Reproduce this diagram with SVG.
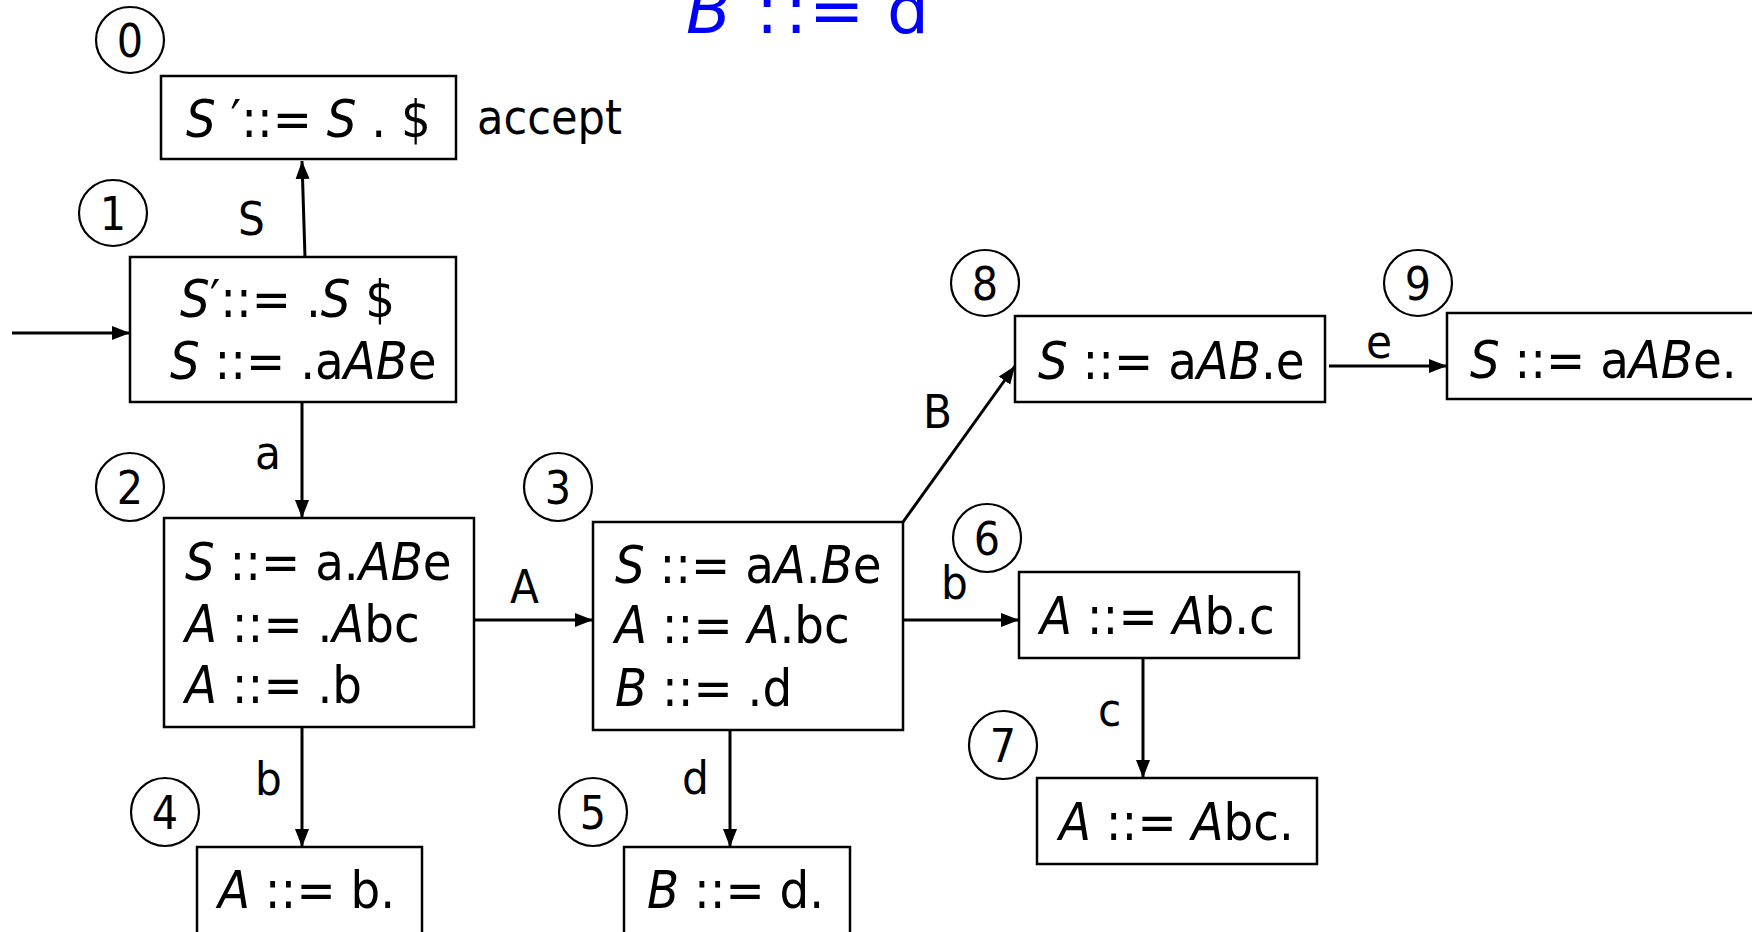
<svg xmlns="http://www.w3.org/2000/svg" width="1752" height="932" viewBox="0 0 1752 932">
<style>
.box{fill:#fff;stroke:#000;stroke-width:2.5}
.st{fill:none;stroke:#000;stroke-width:2.2}
.t{font-family:"DejaVu Sans Condensed","DejaVu Sans",sans-serif;font-size:52px;fill:#000}
.l{font-family:"DejaVu Sans Condensed","DejaVu Sans",sans-serif;font-size:47px;fill:#000}
.n{font-family:"DejaVu Sans Condensed","DejaVu Sans",sans-serif;font-size:46px;fill:#000;text-anchor:middle}
.i{font-style:italic}
.edge{fill:none;stroke:#000;stroke-width:3;marker-end:url(#ah)}
</style>
<defs>
<marker id="ah" markerUnits="userSpaceOnUse" markerWidth="20" markerHeight="16" refX="18" refY="8" orient="auto">
<path d="M0,1 L18,8 L0,15 Z" fill="#000"/>
</marker>
</defs>
<rect width="1752" height="932" fill="#fff"/>
<text y="33" font-family="DejaVu Sans, Verdana, sans-serif" font-size="66" fill="#0000FF"><tspan x="686" class="i">B </tspan><tspan x="756">:</tspan><tspan x="785">:</tspan><tspan x="809">= </tspan><tspan x="887">d</tspan></text>

<g id="connectors">
<line class="edge" x1="305" y1="257" x2="302" y2="161"/>
<line class="edge" x1="12" y1="333" x2="130" y2="333"/>
<line class="edge" x1="302" y1="402" x2="302" y2="518"/>
<line class="edge" x1="474" y1="620" x2="593" y2="620"/>
<line class="edge" x1="302" y1="727" x2="302" y2="847"/>
<line class="edge" x1="730" y1="727" x2="730" y2="847"/>
<line class="edge" x1="903" y1="522" x2="1015" y2="366"/>
<line class="edge" x1="1329" y1="366" x2="1447" y2="366"/>
<line class="edge" x1="903" y1="620" x2="1019" y2="620"/>
<line class="edge" x1="1143" y1="658" x2="1143" y2="778"/>
<text class="l" x="238" y="235">S</text>
<text class="l" x="255" y="469">a</text>
<text class="l" x="510" y="603">A</text>
<text class="l" x="255" y="795">b</text>
<text class="l" x="682" y="794">d</text>
<text class="l" x="923" y="428">B</text>
<text class="l" x="1366" y="358">e</text>
<text class="l" x="941" y="599">b</text>
<text class="l" x="1098" y="726">c</text>
</g>

<g id="state0">
<ellipse class="st" cx="130" cy="40" rx="34" ry="33"/>
<text class="n" x="130" y="57">0</text>
<rect class="box" x="161" y="76" width="295" height="83"/>
<text class="t" x="186" y="137"><tspan class="i">S</tspan> ′::= <tspan class="i">S</tspan> . $</text>
<text class="l" x="477" y="134" style="font-size:48px">accept</text>
</g>

<g id="state1">
<ellipse class="st" cx="113" cy="213" rx="34" ry="33"/>
<text class="n" x="113" y="230">1</text>
<rect class="box" x="130" y="257" width="326" height="145"/>
<text class="t" x="180" y="317"><tspan class="i">S</tspan>′::= .<tspan class="i">S</tspan> $</text>
<text class="t" x="170" y="379"><tspan class="i">S</tspan> ::= .a<tspan class="i">AB</tspan>e</text>
</g>

<g id="state2">
<ellipse class="st" cx="130" cy="487" rx="34" ry="34"/>
<text class="n" x="130" y="504">2</text>
<rect class="box" x="164" y="518" width="310" height="209"/>
<text class="t" x="185" y="580"><tspan class="i">S</tspan> ::= a.<tspan class="i">AB</tspan>e</text>
<text class="t" x="185" y="642"><tspan class="i">A</tspan> ::= .<tspan class="i">A</tspan>bc</text>
<text class="t" x="185" y="703"><tspan class="i">A</tspan> ::= .b</text>
</g>

<g id="state3">
<ellipse class="st" cx="558" cy="487" rx="34" ry="34"/>
<text class="n" x="558" y="504">3</text>
<rect class="box" x="593" y="522" width="310" height="208"/>
<text class="t" x="615" y="583"><tspan class="i">S</tspan> ::= a<tspan class="i">A</tspan>.<tspan class="i">B</tspan>e</text>
<text class="t" x="615" y="643"><tspan class="i">A</tspan> ::= <tspan class="i">A</tspan>.bc</text>
<text class="t" x="615" y="706"><tspan class="i">B</tspan> ::= .d</text>
</g>

<g id="state4">
<ellipse class="st" cx="165" cy="812" rx="34" ry="34"/>
<text class="n" x="165" y="829">4</text>
<rect class="box" x="197" y="847" width="225" height="100"/>
<text class="t" x="218" y="908"><tspan class="i">A</tspan> ::= b.</text>
</g>

<g id="state5">
<ellipse class="st" cx="593" cy="812" rx="34" ry="34"/>
<text class="n" x="593" y="829">5</text>
<rect class="box" x="624" y="847" width="226" height="100"/>
<text class="t" x="647" y="908"><tspan class="i">B</tspan> ::= d.</text>
</g>

<g id="state6">
<ellipse class="st" cx="987" cy="538" rx="34" ry="34"/>
<text class="n" x="987" y="555">6</text>
<rect class="box" x="1019" y="572" width="280" height="86"/>
<text class="t" x="1040" y="634"><tspan class="i">A</tspan> ::= <tspan class="i">A</tspan>b.c</text>
</g>

<g id="state7">
<ellipse class="st" cx="1003" cy="745" rx="34" ry="34"/>
<text class="n" x="1003" y="762">7</text>
<rect class="box" x="1037" y="778" width="280" height="86"/>
<text class="t" x="1059" y="840"><tspan class="i">A</tspan> ::= <tspan class="i">A</tspan>bc.</text>
</g>

<g id="state8">
<ellipse class="st" cx="985" cy="283" rx="34" ry="33"/>
<text class="n" x="985" y="300">8</text>
<rect class="box" x="1015" y="316" width="310" height="86"/>
<text class="t" x="1038" y="379"><tspan class="i">S</tspan> ::= a<tspan class="i">AB</tspan>.e</text>
</g>

<g id="state9">
<ellipse class="st" cx="1418" cy="283" rx="34" ry="33"/>
<text class="n" x="1418" y="300">9</text>
<rect class="box" x="1447" y="313" width="330" height="86"/>
<text class="t" x="1470" y="378"><tspan class="i">S</tspan> ::= a<tspan class="i">AB</tspan>e.</text>
</g>
</svg>
